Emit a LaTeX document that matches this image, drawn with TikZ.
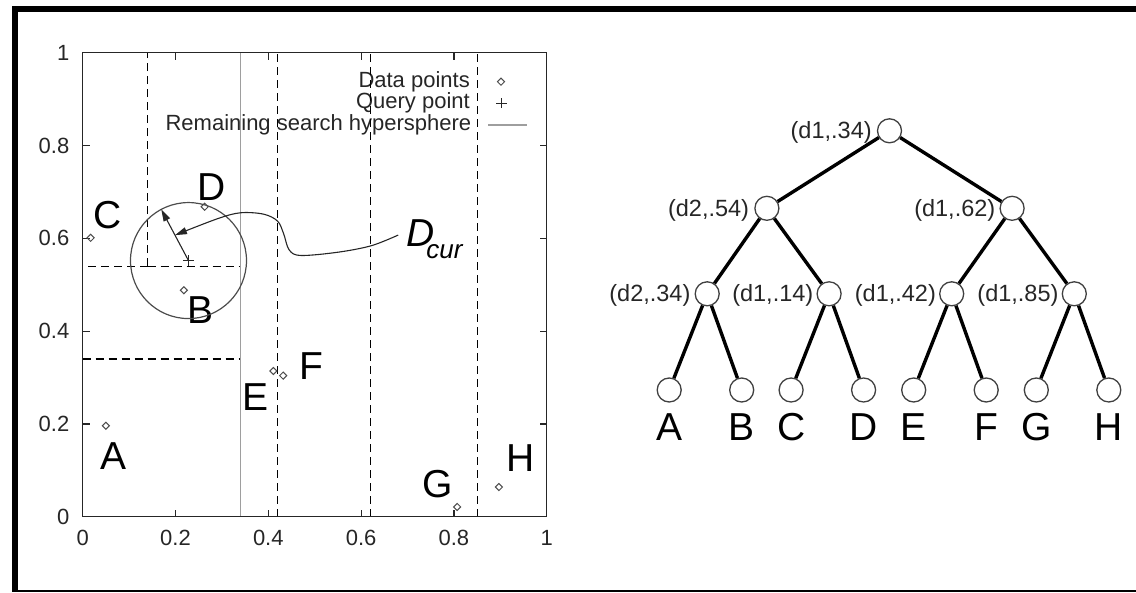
\documentclass[tikz,border=0pt]{standalone}
\usepackage{fontspec}
\setmainfont{Liberation Sans}
\usepackage{tikz}
\usetikzlibrary{arrows.meta,positioning,shapes.geometric}

\begin{document}
\begin{tikzpicture}[x=1pt, y=-1pt,
  every node/.style={inner sep=0pt},
  ticklab/.style={font=\fontsize{22}{24}\selectfont, text=black!85},
  leglab/.style={ticklab, anchor=east},
  ptlab/.style={font=\fontsize{39}{40}\selectfont},
  datapt/.style={diamond, draw=black!70, line width=1pt, minimum size=7.5pt},
  qpt/.style={minimum size=10pt},
  qmark/.style={line width=1.1pt, black!85},
  axis/.style={line width=1.2pt, black!85},
  cut/.style={dash pattern=on 8pt off 5pt, line width=1.2pt},
  rootcut/.style={draw=black!38, line width=1.8pt},
  ball/.style={draw=black!70, line width=1.2pt},
  ptr/.style={black!85, line width=1.1pt, -{Triangle[length=12pt, width=7pt]}},
  knode/.style={circle, draw=black!75, line width=1.3pt, fill=white, minimum size=24pt},
  kedge/.style={line width=3.4pt},
  split/.style={font=\fontsize{23.5}{25}\selectfont, text=black!85},
  leaflab/.style={font=\fontsize{39}{40}\selectfont}
]
  \useasboundingbox (0,0) rectangle (1136,593);

  % frame
  \fill (12,6) rectangle (1136,12);
  \fill (12,6) rectangle (18,592);
  \draw[line width=1.6pt] (12,591.2) -- (1136,591.2);

  % legend
  \node[leglab] (legdata) at (470,81.7) {Data points};
  \node[leglab] (legquery) at (470,103.3) {Query point};
  \node[leglab] (legball) at (471.5,125) {Remaining search hypersphere};
  \node[datapt] (legdiam) at (501,81.7) {};
  \node[qpt] (legq) at (501.5,103.3) {};
  \draw[qmark] (legq.north) -- (legq.south) (legq.west) -- (legq.east);
  \coordinate (legl) at (488.3,125.3);
  \coordinate (legr) at (526.7,125.3);
  \draw[rootcut] (legl) -- (legr);

  % the plot, in data units
  \begin{scope}[shift={(82.7,516.7)}, x=464pt, y=464pt]
    \draw[rootcut] (0.34,0) -- (0.34,1);
    \draw[cut] (0.14,0.54) -- (0.14,1);
    \draw[cut] (0.14,0.54) -- (0,0.54);
    \draw[cut] (0.14,0.54) -- (0.34,0.54);
    \draw[cut] (0,0.34) -- (0.34,0.34);
    \foreach \c in {0.42,0.62,0.85}
      \draw[cut] (\c,0) -- (\c,1);

    \draw[axis] (0,0) rectangle (1,1);
    \foreach \t in {0.2,0.4,0.6,0.8}
      \draw[axis] (\t,0) -- ++(0,0.015) (\t,1) -- ++(0,-0.015)
                  (0,\t) -- ++(0.015,0) (1,\t) -- ++(-0.015,0);
    \foreach \t [count=\i] in {0,0.2,0.4,0.6,0.8,1} {
      \node[ticklab, anchor=east] (ylab\i) at (-0.0284,\t) {\t};
      \node[ticklab] (xlab\i) at (\t,-0.0459) {\t};
    }

    % data points
    \node[datapt] (pA) at (0.050,0.196) {};
    \node[datapt] (pB) at (0.218,0.488) {};
    \node[datapt] (pC) at (0.017,0.601) {};
    \node[datapt] (pD) at (0.263,0.668) {};
    \node[datapt] (pE) at (0.411,0.314) {};
    \node[datapt] (pF) at (0.432,0.304) {};
    \node[datapt] (pG) at (0.807,0.021) {};
    \node[datapt] (pH) at (0.897,0.064) {};

    \node[ptlab] (lA) at (0.066,0.131) {A};
    \node[ptlab] (lB) at (0.254,0.445) {B};
    \node[ptlab] (lC) at (0.053,0.650) {C};
    \node[ptlab] (lD) at (0.277,0.710) {D};
    \node[ptlab] (lE) at (0.373,0.257) {E};
    \node[ptlab] (lF) at (0.493,0.325) {F};
    \node[ptlab] (lG) at (0.765,0.070) {G};
    \node[ptlab] (lH) at (0.944,0.126) {H};

    % query and search ball
    \node[qpt] (q) at (0.228,0.552) {};
    \draw[qmark] (q.north) -- (q.south) (q.west) -- (q.east);
    \draw[ball] (q.center) circle[radius=0.125];
    \path (q.center) ++(118:0.125) coordinate (rim);
    \path (q.center) ++(118:0.062) coordinate (rmid);
    \draw[ptr] (q.center) -- (rim);

    \node[ptlab, anchor=base west] (dcur) at (0.697,0.582)
      {\itshape D\kern-8pt\raisebox{-11.6pt}{\fontsize{26}{26}\selectfont cur}};
    \coordinate (dstart) at (0.68,0.607);
    \draw[ptr] plot[smooth, tension=0.55] coordinates {(dstart) (0.622,0.584)
      (0.55,0.570) (0.47,0.563) (0.445,0.575) (0.433,0.61) (0.42,0.637)
      (0.39,0.652) (0.34,0.655) (0.29,0.642) (rmid)};
  \end{scope}

  % kd-tree
  \node[knode] (root) at (889.5,130.8) {};
  \node[knode] (n2a) at (766.9,208.3) {};
  \node[knode] (n2b) at (1012.1,208.3) {};
  \node[knode] (n3a) at (707.2,293.8) {};
  \node[knode] (n3b) at (829.1,293.8) {};
  \node[knode] (n3c) at (951.7,293.8) {};
  \node[knode] (n3d) at (1074.3,293.8) {};

  \node[split, left=5pt of root, yshift=-2pt] (sroot) {(d1,.34)};
  \node[split, left=5pt of n2a, yshift=-2pt] (s2a) {(d2,.54)};
  \node[split, left=4pt of n2b, yshift=-2pt] (s2b) {(d1,.62)};
  \node[split, left=4pt of n3a, yshift=-2pt] (s3a) {(d2,.34)};
  \node[split, left=3pt of n3b, yshift=-2pt] (s3b) {(d1,.14)};
  \node[split, left=3pt of n3c, yshift=-2pt] (s3c) {(d1,.42)};
  \node[split, left=3pt of n3d, yshift=-2pt] (s3d) {(d1,.85)};

  \draw[kedge] (root) -- (n2a) (root) -- (n2b);
  \draw[kedge] (n2a) -- (n3a) (n2a) -- (n3b) (n2b) -- (n3c) (n2b) -- (n3d);

  \foreach \p/\a/\b in {n3a/A/B, n3b/C/D, n3c/E/F, n3d/G/H} {
    \path (\p) ++(-38,96.2) node[knode] (leaf\a) {};
    \path (\p) ++(34.5,96.2) node[knode] (leaf\b) {};
    \draw[kedge] (\p) -- (leaf\a) (\p) -- (leaf\b);
    \node[leaflab, below=10.5pt of leaf\a] (t\a) {\a};
    \node[leaflab, below=10.5pt of leaf\b] (t\b) {\b};
  }
\end{tikzpicture}
\end{document}
